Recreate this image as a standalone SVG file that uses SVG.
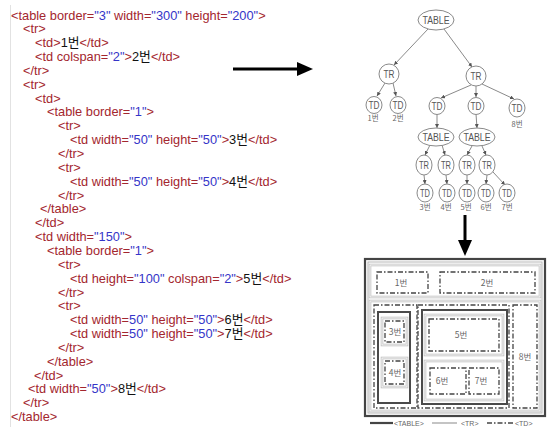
<svg xmlns="http://www.w3.org/2000/svg" width="547" height="427" viewBox="0 0 547 427">
<style>
.code{font-family:"Liberation Sans","Noto Sans CJK KR",sans-serif;font-size:12.8px}
.r{fill:#a3262e}.b{fill:#3535c8}.k{fill:#111}
.nd{fill:#fff;stroke:#8a8a8a;stroke-width:1}
.nt{font-family:"Liberation Sans",sans-serif;font-size:10px;fill:#555;text-anchor:middle}
.lb{font-family:"Noto Sans CJK KR",sans-serif;font-size:7.5px;fill:#666;text-anchor:middle}
.e{stroke:#8a8a8a;stroke-width:1;fill:none}
.big{stroke:#000;stroke-width:3;fill:none}
.tbl{fill:none;stroke:#4a4a4a;stroke-width:2}
.tr{fill:none;stroke:#c4c4c4;stroke-width:2.6}
.tri{fill:none;stroke:#fff;stroke-width:0.8}
.td{fill:none;stroke:#444;stroke-width:1.3;stroke-dasharray:5 2 1.5 2}
.bl{font-family:"Noto Sans CJK KR",sans-serif;font-size:8.5px;fill:#666;text-anchor:middle}
.lg{font-family:"Liberation Sans",sans-serif;font-size:7px;fill:#666}
</style>
<defs>
<marker id="sm" viewBox="0 0 6 6" refX="6" refY="3" markerWidth="4" markerHeight="4" orient="auto" markerUnits="userSpaceOnUse"><path d="M0,0 L6,3 L0,6z" fill="#555"/></marker>
<marker id="bg" viewBox="0 0 16 14" refX="1" refY="7" markerWidth="16" markerHeight="14" orient="auto" markerUnits="userSpaceOnUse"><path d="M0,0 L16,7 L0,14z" fill="#000"/></marker>
</defs>
<rect width="547" height="427" fill="#fff"/>
<line x1="10.5" y1="5" x2="10.5" y2="427" stroke="#e2e2e2" stroke-width="1"/>
<g id="code" class="code" xml:space="preserve">
<text x="11" y="19.5"><tspan class="r">&lt;table border=</tspan><tspan class="b">"3"</tspan><tspan class="r"> width=</tspan><tspan class="b">"300"</tspan><tspan class="r"> height=</tspan><tspan class="b">"200"</tspan><tspan class="r">&gt;</tspan></text>
<text x="23" y="33.35" class="r">&lt;tr&gt;</text>
<text x="35" y="47.2"><tspan class="r">&lt;td&gt;</tspan><tspan class="k">1번</tspan><tspan class="r">&lt;/td&gt;</tspan></text>
<text x="35" y="61.05"><tspan class="r">&lt;td colspan=</tspan><tspan class="b">"2"</tspan><tspan class="r">&gt;</tspan><tspan class="k">2번</tspan><tspan class="r">&lt;/td&gt;</tspan></text>
<text x="23" y="74.9" class="r">&lt;/tr&gt;</text>
<text x="23" y="88.75" class="r">&lt;tr&gt;</text>
<text x="35" y="102.6" class="r">&lt;td&gt;</text>
<text x="47" y="116.45"><tspan class="r">&lt;table border=</tspan><tspan class="b">"1"</tspan><tspan class="r">&gt;</tspan></text>
<text x="58" y="130.3" class="r">&lt;tr&gt;</text>
<text x="70" y="144.15"><tspan class="r">&lt;td width=</tspan><tspan class="b">"50"</tspan><tspan class="r"> height=</tspan><tspan class="b">"50"</tspan><tspan class="r">&gt;</tspan><tspan class="k">3번</tspan><tspan class="r">&lt;/td&gt;</tspan></text>
<text x="58" y="158" class="r">&lt;/tr&gt;</text>
<text x="58" y="171.85" class="r">&lt;tr&gt;</text>
<text x="70" y="185.7"><tspan class="r">&lt;td width=</tspan><tspan class="b">"50"</tspan><tspan class="r"> height=</tspan><tspan class="b">"50"</tspan><tspan class="r">&gt;</tspan><tspan class="k">4번</tspan><tspan class="r">&lt;/td&gt;</tspan></text>
<text x="58" y="199.55" class="r">&lt;/tr&gt;</text>
<text x="40" y="213.4" class="r">&lt;/table&gt;</text>
<text x="35" y="227.25" class="r">&lt;/td&gt;</text>
<text x="35" y="241.1"><tspan class="r">&lt;td width=</tspan><tspan class="b">"150"</tspan><tspan class="r">&gt;</tspan></text>
<text x="47" y="254.95"><tspan class="r">&lt;table border=</tspan><tspan class="b">"1"</tspan><tspan class="r">&gt;</tspan></text>
<text x="58" y="268.8" class="r">&lt;tr&gt;</text>
<text x="70" y="282.65"><tspan class="r">&lt;td  height=</tspan><tspan class="b">"100"</tspan><tspan class="r"> colspan=</tspan><tspan class="b">"2"</tspan><tspan class="r">&gt;</tspan><tspan class="k">5번</tspan><tspan class="r">&lt;/td&gt;</tspan></text>
<text x="58" y="296.5" class="r">&lt;/tr&gt;</text>
<text x="58" y="310.35" class="r">&lt;tr&gt;</text>
<text x="70" y="324.2"><tspan class="r">&lt;td width=</tspan><tspan class="b">50"</tspan><tspan class="r"> height=</tspan><tspan class="b">"50"</tspan><tspan class="r">&gt;</tspan><tspan class="k">6번</tspan><tspan class="r">&lt;/td&gt;</tspan></text>
<text x="70" y="338.05"><tspan class="r">&lt;td width=</tspan><tspan class="b">50"</tspan><tspan class="r"> height=</tspan><tspan class="b">"50"</tspan><tspan class="r">&gt;</tspan><tspan class="k">7번</tspan><tspan class="r">&lt;/td&gt;</tspan></text>
<text x="58" y="351.9" class="r">&lt;/tr&gt;</text>
<text x="47" y="365.75" class="r">&lt;/table&gt;</text>
<text x="34" y="379.6" class="r">&lt;/td&gt;</text>
<text x="28" y="393.45"><tspan class="r">&lt;td width=</tspan><tspan class="b">"50"</tspan><tspan class="r">&gt;</tspan><tspan class="k">8번</tspan><tspan class="r">&lt;/td&gt;</tspan></text>
<text x="23" y="407.3" class="r">&lt;/tr&gt;</text>
<text x="11" y="421.15" class="r">&lt;/table&gt;</text>
</g>
<g id="connectors">
<line class="big" x1="233" y1="69" x2="298" y2="69" marker-end="url(#bg)"/>
<line class="big" x1="465" y1="215" x2="465" y2="241" marker-end="url(#bg)"/>
<g marker-end="url(#sm)">
<line class="e" x1="428" y1="29" x2="394" y2="65"/>
<line class="e" x1="444" y1="29" x2="472" y2="67"/>
<line class="e" x1="385" y1="83" x2="377" y2="96"/>
<line class="e" x1="393" y1="83" x2="396" y2="96"/>
<line class="e" x1="471" y1="85" x2="441" y2="98"/>
<line class="e" x1="476" y1="86" x2="476" y2="97"/>
<line class="e" x1="482" y1="84" x2="514" y2="99"/>
<line class="e" x1="437" y1="114" x2="437" y2="128"/>
<line class="e" x1="476" y1="114" x2="477" y2="128"/>
<line class="e" x1="430" y1="145" x2="425" y2="155"/>
<line class="e" x1="442" y1="145" x2="445" y2="155"/>
<line class="e" x1="472" y1="146" x2="467" y2="155"/>
<line class="e" x1="482" y1="146" x2="486" y2="155"/>
<line class="e" x1="424" y1="175" x2="425" y2="184"/>
<line class="e" x1="446" y1="175" x2="447" y2="184"/>
<line class="e" x1="467" y1="175" x2="467" y2="184"/>
<line class="e" x1="487" y1="175" x2="486" y2="184"/>
<line class="e" x1="493" y1="172" x2="505" y2="185"/>
</g>
</g>
<g id="n-table0"><ellipse class="nd" cx="436" cy="20" rx="18" ry="10"/><text class="nt" x="436" y="24" textLength="27" lengthAdjust="spacingAndGlyphs">TABLE</text></g>
<g id="n-trL"><ellipse class="nd" cx="389" cy="74" rx="10" ry="10"/><text class="nt" x="389" y="78" textLength="11" lengthAdjust="spacingAndGlyphs">TR</text></g>
<g id="n-trR"><ellipse class="nd" cx="476" cy="76" rx="10" ry="10"/><text class="nt" x="476" y="80" textLength="11" lengthAdjust="spacingAndGlyphs">TR</text></g>
<g id="n-td1"><ellipse class="nd" cx="374" cy="105" rx="8" ry="8.5"/><text class="nt" x="374" y="109" textLength="11" lengthAdjust="spacingAndGlyphs">TD</text><text class="lb" x="373" y="121">1번</text></g>
<g id="n-td2"><ellipse class="nd" cx="398" cy="105" rx="8" ry="8.5"/><text class="nt" x="398" y="109" textLength="11" lengthAdjust="spacingAndGlyphs">TD</text><text class="lb" x="398" y="121">2번</text></g>
<g id="n-td3"><ellipse class="nd" cx="437" cy="106" rx="8" ry="8.5"/><text class="nt" x="437" y="110" textLength="11" lengthAdjust="spacingAndGlyphs">TD</text></g>
<g id="n-td4"><ellipse class="nd" cx="476" cy="106" rx="8" ry="8.5"/><text class="nt" x="476" y="110" textLength="11" lengthAdjust="spacingAndGlyphs">TD</text></g>
<g id="n-td8"><ellipse class="nd" cx="517" cy="108" rx="8" ry="9"/><text class="nt" x="517" y="112" textLength="11" lengthAdjust="spacingAndGlyphs">TD</text><text class="lb" x="517" y="127">8번</text></g>
<g id="n-tableL"><ellipse class="nd" cx="436" cy="137" rx="18" ry="9"/><text class="nt" x="436" y="141" textLength="27" lengthAdjust="spacingAndGlyphs">TABLE</text></g>
<g id="n-tableR"><ellipse class="nd" cx="477" cy="137" rx="18" ry="9"/><text class="nt" x="477" y="141" textLength="27" lengthAdjust="spacingAndGlyphs">TABLE</text></g>
<g id="n-tr3"><ellipse class="nd" cx="424" cy="165" rx="8" ry="10"/><text class="nt" x="424" y="169" textLength="10" lengthAdjust="spacingAndGlyphs">TR</text></g>
<g id="n-tr4"><ellipse class="nd" cx="446" cy="165" rx="8" ry="10"/><text class="nt" x="446" y="169" textLength="10" lengthAdjust="spacingAndGlyphs">TR</text></g>
<g id="n-tr5"><ellipse class="nd" cx="467" cy="165" rx="8" ry="10"/><text class="nt" x="467" y="169" textLength="10" lengthAdjust="spacingAndGlyphs">TR</text></g>
<g id="n-tr6"><ellipse class="nd" cx="487" cy="165" rx="8" ry="10"/><text class="nt" x="487" y="169" textLength="10" lengthAdjust="spacingAndGlyphs">TR</text></g>
<g id="n-td3b"><ellipse class="nd" cx="425" cy="193" rx="8" ry="9"/><text class="nt" x="425" y="197" textLength="10" lengthAdjust="spacingAndGlyphs">TD</text><text class="lb" x="425" y="210">3번</text></g>
<g id="n-td4b"><ellipse class="nd" cx="447" cy="193" rx="8" ry="9"/><text class="nt" x="447" y="197" textLength="10" lengthAdjust="spacingAndGlyphs">TD</text><text class="lb" x="446" y="210">4번</text></g>
<g id="n-td5"><ellipse class="nd" cx="467" cy="193" rx="8" ry="9"/><text class="nt" x="467" y="197" textLength="10" lengthAdjust="spacingAndGlyphs">TD</text><text class="lb" x="466" y="210">5번</text></g>
<g id="n-td6"><ellipse class="nd" cx="486" cy="193" rx="8" ry="9"/><text class="nt" x="486" y="197" textLength="10" lengthAdjust="spacingAndGlyphs">TD</text><text class="lb" x="486" y="210">6번</text></g>
<g id="n-td7"><ellipse class="nd" cx="507" cy="193" rx="8" ry="9"/><text class="nt" x="507" y="197" textLength="10" lengthAdjust="spacingAndGlyphs">TD</text><text class="lb" x="507" y="210">7번</text></g>
<g id="layout">
<rect x="365" y="259" width="180" height="157" fill="none" stroke="#444" stroke-width="2.2"/>
<rect x="368" y="262" width="174" height="151" fill="none" stroke="#b8b8b8" stroke-width="1"/>
<rect class="tr" x="370" y="265" width="170" height="32"/><rect class="tri" x="370" y="265" width="170" height="32"/>
<rect class="td" x="377" y="272" width="51" height="21"/><text class="bl" x="401" y="286">1번</text>
<rect class="td" x="440" y="272" width="95" height="21"/><text class="bl" x="487" y="286">2번</text>
<rect class="tr" x="370" y="301" width="170" height="110"/><rect class="tri" x="370" y="301" width="170" height="110"/>
<rect class="td" x="374" y="305" width="43" height="103"/>
<rect class="tbl" x="378" y="312" width="32" height="91"/>
<rect class="tr" x="382" y="318" width="25" height="27"/><rect class="tri" x="382" y="318" width="25" height="27"/>
<rect class="td" x="385" y="321" width="19" height="21"/><text class="bl" x="395" y="335">3번</text>
<rect class="tr" x="382" y="358" width="25" height="29"/><rect class="tri" x="382" y="358" width="25" height="29"/>
<rect class="td" x="385" y="361" width="19" height="23"/><text class="bl" x="395" y="376">4번</text>
<rect class="td" x="418" y="305" width="91" height="103"/>
<rect class="tbl" x="422" y="310" width="85" height="94"/>
<rect class="tr" x="425" y="315" width="78" height="40"/><rect class="tri" x="425" y="315" width="78" height="40"/>
<rect class="td" x="429" y="319" width="70" height="32"/><text class="bl" x="461" y="338">5번</text>
<rect class="tr" x="425" y="361" width="78" height="39"/><rect class="tri" x="425" y="361" width="78" height="39"/>
<rect class="td" x="430" y="368" width="36" height="26"/><text class="bl" x="442" y="384">6번</text>
<rect class="td" x="469" y="368" width="30" height="26"/><text class="bl" x="481" y="384">7번</text>
<rect class="td" x="513" y="305" width="24" height="103"/><text class="bl" x="525" y="360">8번</text>
<line x1="370" y1="423" x2="393" y2="423" stroke="#444" stroke-width="2.2"/>
<text class="lg" x="394" y="425.5">&lt;TABLE&gt;</text>
<line x1="432" y1="423" x2="457" y2="423" stroke="#c4c4c4" stroke-width="2"/>
<text class="lg" x="461" y="425.5">&lt;TR&gt;</text>
<line class="td" x1="487" y1="423" x2="514" y2="423"/>
<text class="lg" x="515" y="425.5">&lt;TD&gt;</text>
</g>
</svg>
